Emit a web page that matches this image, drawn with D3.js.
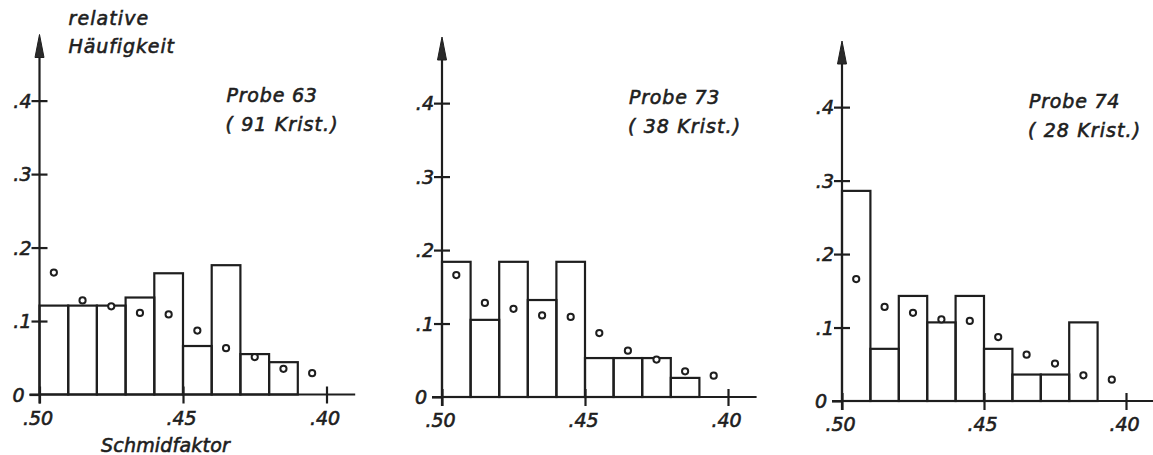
<!DOCTYPE html>
<html>
<head>
<meta charset="utf-8">
<script src="https://cdn.jsdelivr.net/npm/d3@7"></script>
<style>
  html, body { margin: 0; padding: 0; background: #ffffff; }
  svg { display: block; }
  text { font-family: "DejaVu Sans", sans-serif; font-style: italic; fill: #1e1e1e;
         stroke: #1e1e1e; stroke-width: 0.6px; }
</style>
</head>
<body>
<svg id="chart" width="1153" height="455"></svg>
<script>
// ---- data ----
// Schmid factor classes (upper edge of each 0.01-wide class), from .50 down to .41
const schmidBins = [0.50, 0.49, 0.48, 0.47, 0.46, 0.45, 0.44, 0.43, 0.42, 0.41];
// expected relative frequency (open circles), same in all three panels
const expected = [0.166, 0.128, 0.120, 0.111, 0.109, 0.087, 0.063, 0.051, 0.035, 0.029];
// measured relative frequencies (bars)
const probe63 = [0.121, 0.121, 0.121, 0.132, 0.165, 0.066, 0.176, 0.055, 0.044];
const probe73 = [0.184, 0.105, 0.184, 0.132, 0.184, 0.053, 0.053, 0.053, 0.026];
const probe74 = [0.286, 0.071, 0.143, 0.107, 0.143, 0.071, 0.036, 0.036, 0.107];
const probeNames = ["Probe 63", "Probe 73", "Probe 74"];
const crystalLabels = ["( 91 Krist.)", "( 38 Krist.)", "( 28 Krist.)"];
const yTicks = [0, 0.1, 0.2, 0.3, 0.4];
const yTickLabels = ["0", ".1", ".2", ".3", ".4"];
const xTicks = [0.50, 0.45, 0.40];
const xTickLabels = [".50", ".45", ".40"];
const yLabelLines = ["relative", "Häufigkeit"];
const xLabel = "Schmidfaktor";

// ---- layout (positions, not data) ----
const panels = [
  { x0: 39.5, y0: 394.5, w: 287, values: probe63 },
  { x0: 442,  y0: 397,   w: 286, values: probe73 },
  { x0: 842,  y0: 401,   w: 284, values: probe74 }
];
const binWidth = 0.01;
const yMax = 0.49, yPix = 360;
const ink = "#1e1e1e";
const lw = 2.2;

const svg = d3.select("#chart");
svg.append("rect").attr("width", 1153).attr("height", 455).attr("fill", "#fff");

panels.forEach((p, pi) => {
  const x = d3.scaleLinear().domain([0.50, 0.40]).range([p.x0, p.x0 + p.w]);
  const y = d3.scaleLinear().domain([0, yMax]).range([p.y0, p.y0 - yPix]);
  const g = svg.append("g");

  // bars
  g.selectAll("rect.bar").data(p.values).join("rect")
    .attr("class", "bar")
    .attr("x", (d, i) => x(schmidBins[i]))
    .attr("width", (d, i) => x(schmidBins[i] - binWidth) - x(schmidBins[i]))
    .attr("y", d => y(d))
    .attr("height", d => y(0) - y(d))
    .attr("fill", "none").attr("stroke", ink).attr("stroke-width", lw);

  // expected values (circles at class centres)
  g.selectAll("circle.exp").data(expected).join("circle")
    .attr("class", "exp")
    .attr("cx", (d, i) => x(schmidBins[i] - binWidth / 2))
    .attr("cy", d => y(d))
    .attr("r", 3.1)
    .attr("fill", "#fff").attr("stroke", ink).attr("stroke-width", 2);

  // x axis
  const xAxis = d3.axisBottom(x).tickValues(xTicks)
    .tickFormat((d, i) => xTickLabels[i]).tickSize(9).tickPadding(0);
  const gx = g.append("g").attr("transform", `translate(0,${y(0)})`).call(xAxis);
  gx.select(".domain").remove();
  gx.selectAll(".tick line").attr("y1", -8).attr("y2", 9)
    .attr("stroke", ink).attr("stroke-width", lw);
  gx.selectAll(".tick text").attr("dy", null).attr("y", 30).attr("x", -2)
    .attr("font-size", 19).style("font-family", "DejaVu Sans").style("font-style", "italic")
    .attr("fill", ink);
  g.append("line")
    .attr("x1", p.x0 - 10).attr("x2", x(0.39))
    .attr("y1", y(0)).attr("y2", y(0))
    .attr("stroke", ink).attr("stroke-width", lw);

  // y axis
  const yAxis = d3.axisLeft(y).tickValues(yTicks)
    .tickFormat((d, i) => yTickLabels[i]).tickSize(8).tickPadding(0);
  const gy = g.append("g").attr("transform", `translate(${p.x0},0)`).call(yAxis);
  gy.select(".domain").remove();
  gy.selectAll(".tick line")
    .attr("x1", d => d === 0 ? 0 : 8).attr("x2", d => d === 0 ? -10 : -8)
    .attr("stroke", ink).attr("stroke-width", lw);
  gy.selectAll(".tick text")
    .attr("x", d => d === 0 ? -15 : -8).attr("dy", "0.36em")
    .attr("font-size", 19).style("font-family", "DejaVu Sans").style("font-style", "italic")
    .attr("fill", ink);
  g.append("line")
    .attr("x1", p.x0).attr("x2", p.x0)
    .attr("y1", y(0) + 9).attr("y2", y(yMax) + 10)
    .attr("stroke", ink).attr("stroke-width", lw);
  // arrow head
  const tip = y(yMax);
  g.append("path")
    .attr("d", `M${p.x0},${tip} L${p.x0 + 4.5},${tip + 23} L${p.x0 - 4.5},${tip + 23} Z`)
    .attr("fill", "#2a2a2a").attr("stroke", ink).attr("stroke-width", 1);

  // sample labels
  const tx = p.x0 + 187, ty = p.y0 - 293;
  g.append("text").attr("x", tx).attr("y", ty)
    .attr("font-size", 19).attr("letter-spacing", 0.8).text(probeNames[pi]);
  g.append("text").attr("x", tx - 1).attr("y", ty + 29)
    .attr("font-size", 19).attr("letter-spacing", 1.1).attr("xml:space", "preserve")
    .style("white-space", "pre").text(crystalLabels[pi]);

  if (pi === 0) {
    g.append("text").attr("x", p.x0 + 29).attr("y", 25)
      .attr("font-size", 19).attr("letter-spacing", 1.1).text(yLabelLines[0]);
    g.append("text").attr("x", p.x0 + 29).attr("y", 53)
      .attr("font-size", 19).attr("letter-spacing", 0.9).text(yLabelLines[1]);
    g.append("text").attr("x", p.x0 + 126).attr("y", 452)
      .attr("text-anchor", "middle")
      .attr("font-size", 19).attr("letter-spacing", 0.2).text(xLabel);
  }
});
</script>
</body>
</html>
